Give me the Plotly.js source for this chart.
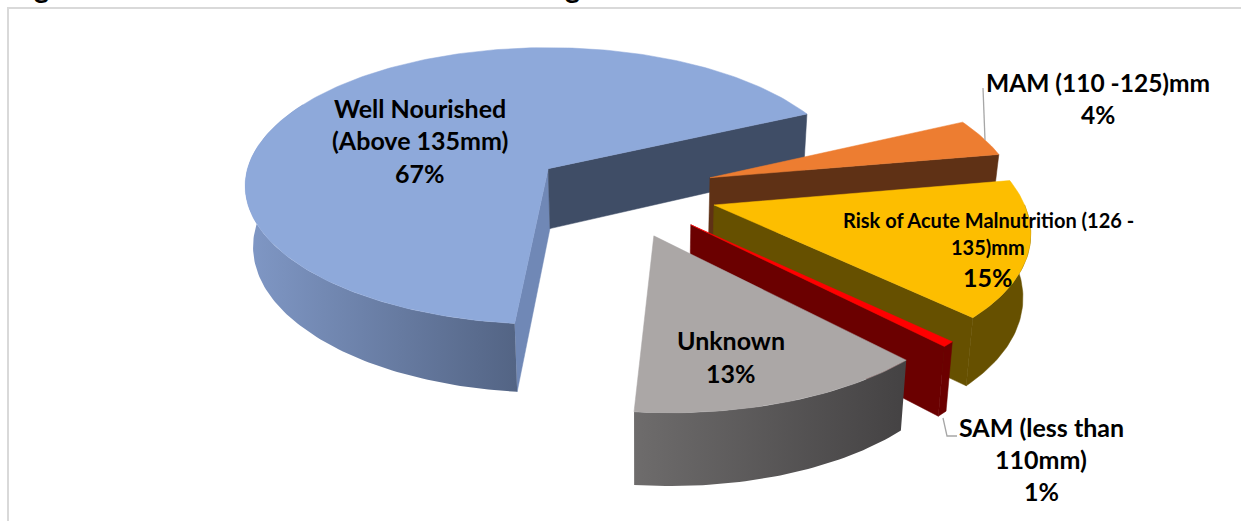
<!DOCTYPE html>
<html><head><meta charset="utf-8">
<script src="https://cdn.plot.ly/plotly-3.0.1.min.js"></script>
<style>html,body{margin:0;padding:0;background:#fff;overflow:hidden}#c{width:1241px;height:521px}</style>
</head><body><div id="c"></div>
<script>
// ---- data ----
const categories = ['Well Nourished (Above 135mm)', 'MAM (110 -125)mm', 'Risk of Acute Malnutrition (126 - 135)mm', 'SAM (less than 110mm)', 'Unknown'];
const values = [66.5, 4.2, 15.2, 0.6, 13.5];
const pulls = [0.28, 0.32, 0.32, 0.32, 0.32];
const labelLines = [
  ['Well Nourished', '(Above 135mm)', '67%'],
  ['MAM (110 -125)mm', '4%'],
  ['Risk of Acute Malnutrition (126 -', '135)mm', '15%'],
  ['SAM (less than', '110mm)', '1%'],
  ['Unknown', '13%']
];
// ---- styles ----
const topColors = ['#8ea9da', '#ed7d31', '#fdbe00', '#ff0000', '#aba7a6'];
const endWallColors = ['#3f4d66', '#5f3115', '#665000', '#6b0000', '#4a4848'];
const startWallColors = ['#7088b6', '#5f3115', '#665000', '#6b0000', '#6a6868'];
const outerWallScales = [
  ['#8098c6', '#536484'], ['#5f3115', '#5f3115'], ['#665000', '#665000'],
  ['#6b0000', '#6b0000'], ['#6e6c6c', '#444243']
];
const labelPos = [
  {x: 420, y: [108, 140, 173], size: [25, 25, 25]},
  {x: 1098, y: [82, 114], size: [24.5, 24.5]},
  {x: 988, y: [220, 247, 277], size: [20, 20, 25]},
  {x: 1041, y: [427, 459, 491], size: [25, 25, 25]},
  {x: 731, y: [340, 373], size: [25, 25]}
];
// ---- view geometry of the tilted pie ----
const view = {cx: 548, cy: 170, A: 301, B: 136.5, p: 0.125, H: 60, lean: 0.02, vx: 640,
               cu: 0.229, cv: 0.152, rotation: 185.6};
const rad = d => d * Math.PI / 180;
function project(u, v, low) {
  const w = 1 - view.p * v;
  let x = view.cx + view.A * u / w;
  let y = view.cy + view.B * v / w;
  if (low) { x = view.vx + (x - view.vx) * (1 - view.lean); y += view.H / w; }
  return [x, y];
}
function rimPoint(o, th, low) { return project(o.u + Math.sin(rad(th)), o.v - Math.cos(rad(th)), low); }
function arc(a, b) { const r = [], n = Math.max(2, Math.ceil(Math.abs(b - a))); for (let i = 0; i <= n; i++) r.push(a + (b - a) * i / n); return r; }
function poly(pts, color, grad) {
  const t = {type: 'scatter', mode: 'lines', x: pts.map(p => p[0]), y: pts.map(p => p[1]), fill: 'toself',
    line: {width: 0.5, color: color}, fillcolor: color, hoverinfo: 'skip', showlegend: false};
  if (grad) {
    const xs = t.x; t.line = {width: 0};
    t.fillgradient = {type: 'horizontal', start: Math.min(...xs), stop: Math.max(...xs),
      colorscale: [[0, grad[0]], [1, grad[1]]]};
  }
  return t;
}
const traces = [];
let start = view.rotation;
const total = values.reduce((a, b) => a + b, 0);
values.forEach((val, i) => {
  const span = 360 * val / total, end = start + span, mid = start + span / 2;
  const o = {u: view.cu + pulls[i] * Math.sin(rad(mid)), v: view.cv - pulls[i] * Math.cos(rad(mid))};
  const apexT = project(o.u, o.v, false), apexB = project(o.u, o.v, true);
  // side walls that face the viewer
  if (-Math.cos(rad(start - 90)) > 0)
    traces.push(poly([apexT, rimPoint(o, start, false), rimPoint(o, start, true), apexB, apexT], startWallColors[i]));
  if (-Math.cos(rad(end + 90)) > 0)
    traces.push(poly([apexT, rimPoint(o, end, false), rimPoint(o, end, true), apexB, apexT], endWallColors[i]));
  // front part of the rim wall; it runs on under the top face on the left so the silhouette stays closed
  const a0 = Math.max(start, 90), b0 = Math.min(end, 300);
  if (b0 > a0) {
    const ths = arc(a0, b0);
    const pts = ths.map(t => rimPoint(o, t, false)).concat(ths.slice().reverse().map(t => rimPoint(o, t, true)));
    pts.push(pts[0]);
    traces.push(poly(pts, outerWallScales[i][0], outerWallScales[i][0] === outerWallScales[i][1] ? null : outerWallScales[i]));
  }
  // top face
  const topPts = [apexT].concat(arc(start, end).map(t => rimPoint(o, t, false)), [apexT]);
  traces.push(poly(topPts, topColors[i]));
  start = end % 360;
});
const FONT = 'Lato, "Open Sans", sans-serif';
const annotations = [];
labelLines.forEach((lines, i) => lines.forEach((text, j) => annotations.push({
  xref: 'x', yref: 'y', x: labelPos[i].x, y: labelPos[i].y[j], text, showarrow: false,
  xanchor: 'center', yanchor: 'middle',
  font: {family: FONT, size: labelPos[i].size[j], color: '#000', weight: 700}
})));
// the cropped heading: only the descenders of two letters are inside the picture
[['g', 32], ['g', 563]].forEach(([text, px]) => annotations.push({
  xref: 'paper', yref: 'paper', x: px / 1241, y: 1 - 6 / 521, text, showarrow: false,
  xanchor: 'left', yanchor: 'bottom', font: {family: FONT, size: 29, color: '#000', weight: 700}
}));
const leader = (path) => ({type: 'path', xref: 'x', yref: 'y', path, line: {color: '#a6a6a6', width: 1.3}});
const shapes = [
  leader('M983,88 L985,140'),
  leader('M943,418 L947,436 L957,436'),
  {type: 'line', xref: 'x', yref: 'y', x0: 7, x1: 1241, y0: 8, y1: 8, line: {color: '#d9d9d9', width: 2}},
  {type: 'line', xref: 'x', yref: 'y', x0: 8, x1: 8, y0: 8, y1: 521, line: {color: '#d9d9d9', width: 2}}
];
Plotly.newPlot('c', traces, {
  width: 1241, height: 521, margin: {l: 0, r: 0, t: 0, b: 0}, paper_bgcolor: '#fff', plot_bgcolor: '#fff',
  xaxis: {range: [0, 1241], visible: false, fixedrange: true},
  yaxis: {range: [521, 0], visible: false, fixedrange: true},
  showlegend: false, annotations, shapes
}, {displayModeBar: false, staticPlot: true});
</script></body></html>
